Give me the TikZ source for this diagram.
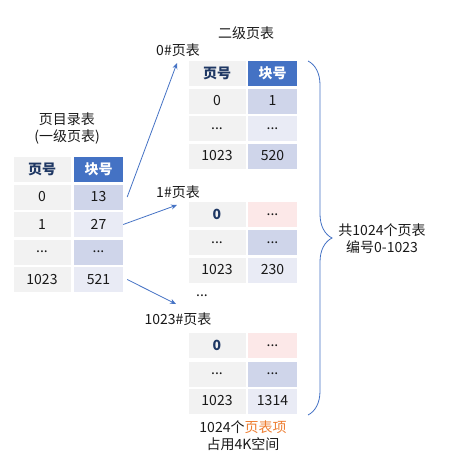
\documentclass[tikz,border=0pt]{standalone}
\usepackage{fontspec}
\setmainfont{Noto Sans CJK SC}
\usetikzlibrary{decorations.pathreplacing,arrows.meta}
\definecolor{hdblue}{HTML}{4472C4}
\definecolor{navy}{HTML}{1F3864}
\definecolor{cellgray}{HTML}{F2F2F2}
\definecolor{bluedark}{HTML}{CFD5EA}
\definecolor{bluelight}{HTML}{E9EBF5}
\definecolor{pinkcell}{HTML}{FCE8E8}
\definecolor{orangetxt}{HTML}{ED7D31}
\begin{document}
\begin{tikzpicture}[x=1pt, y=-1pt, font=\fontsize{14}{17}\selectfont, text=black!90]
	\tikzstyle{cell} = [minimum height=25pt, inner sep=0pt]
	\tikzstyle{pgcell} = [cell, fill=cellgray, minimum width=57pt]
	\tikzstyle{blkcell} = [cell, minimum width=49pt]
	\tikzstyle{pghead} = [pgcell, text=navy, font=\fontsize{14}{17}\selectfont\bfseries]
	\tikzstyle{blkhead} = [blkcell, fill=hdblue, text=white, font=\fontsize{14}{17}\selectfont\bfseries]
	\tikzstyle{firstrow} = [pgcell, text=navy, font=\fontsize{14}{17}\selectfont\bfseries]
	\tikzstyle{ptr} = [draw=hdblue, line width=0.8pt, -{Stealth[length=6pt, width=5pt]}]
	\useasboundingbox (0,0) rectangle (452,471);
	% 页目录表
	\node[align=center] (dirtitle) at (67,128) {页目录表\\(一级页表)};
	\node[pghead](lph) at (42,169.5) {页号};
	\node[blkhead](lbh) at (98.5,169.5) {块号};
	\node[pgcell](lp0) at (42,197) {0};
	\node[blkcell, fill=bluedark](lb0) at (98.5,197) {13};
	\node[pgcell](lp1) at (42,224.5) {1};
	\node[blkcell, fill=bluelight](lb1) at (98.5,224.5) {27};
	\node[pgcell](lp2) at (42,252) {...};
	\node[blkcell, fill=bluedark](lb2) at (98.5,252) {...};
	\node[pgcell](lp3) at (42,279.5) {1023};
	\node[blkcell, fill=bluelight](lb3) at (98.5,279.5) {521};
	% 0#页表
	\node (pttitle) at (246,33) {二级页表};
	\node (lbl0) at (178,50) {0\#页表};
	\node[pghead](aph) at (217,73.5) {页号};
	\node[blkhead](abh) at (272.5,73.5) {块号};
	\node[pgcell](ap0) at (217,101) {0};
	\node[blkcell, fill=bluedark](ab0) at (272.5,101) {1};
	\node[pgcell](ap1) at (217,128.5) {...};
	\node[blkcell, fill=bluelight](ab1) at (272.5,128.5) {...};
	\node[pgcell](ap2) at (217,156) {1023};
	\node[blkcell, fill=bluedark](ab2) at (272.5,156) {520};
	% 1#页表
	\node (lbl1) at (178,192) {1\#页表};
	\node[firstrow](bp0) at (217,214.5) {0};
	\node[blkcell, fill=pinkcell](bb0) at (272.5,214.5) {...};
	\node[pgcell](bp1) at (217,242.5) {...};
	\node[blkcell, fill=bluedark](bb1) at (272.5,242.5) {...};
	\node[pgcell](bp2) at (217,270) {1023};
	\node[blkcell, fill=bluelight](bb2) at (272.5,270) {230};
	% 1023#页表
	\node (gap) at (202,296) {...};
	\node (lbl2) at (178,319) {1023\#页表};
	\node[firstrow](cp0) at (217,345.5) {0};
	\node[blkcell, fill=pinkcell](cb0) at (272.5,345.5) {...};
	\node[pgcell](cp1) at (217,374) {...};
	\node[blkcell, fill=bluedark](cb1) at (272.5,374) {...};
	\node[pgcell](cp2) at (217,401) {1023};
	\node[blkcell, fill=bluelight](cb2) at (272.5,401) {1314};
	\node[align=center] (note) at (243,436) {1024个\textcolor{orangetxt}{页表项}\\占用4K空间};
	% 指针
	\coordinate (tip0) at (177,63);
	\coordinate (tip1) at (177,205);
	\coordinate (tip2) at (176,304);
	\draw[ptr] ([xshift=4pt]lb0.east) -- (tip0);
	\draw[ptr] (lb1.east) -- (tip1);
	\draw[ptr] ([xshift=4pt]lb3.east) -- (tip2);
	% 大括号
	\coordinate (brtop) at (308,61);
	\coordinate (brbot) at (308,415);
	\draw[hdblue, line width=0.8pt, decorate, decoration={brace, amplitude=24pt}] (brtop) -- (brbot);
	\node[align=center] (total) at (382,238.5) {共1024个页表\\编号0-1023};
\end{tikzpicture}
\end{document}
